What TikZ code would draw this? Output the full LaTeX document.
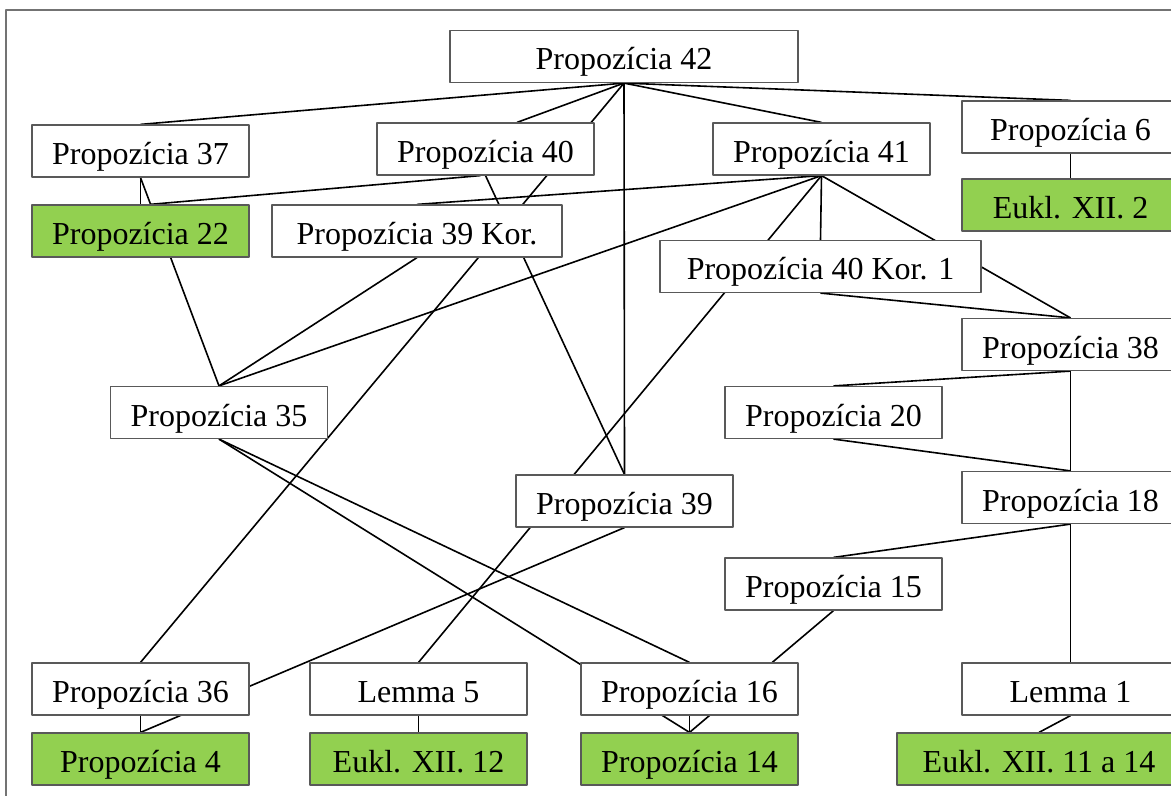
\documentclass[tikz,border=0pt]{standalone}
\usepackage{fontspec}
\setmainfont{Liberation Serif}
\usetikzlibrary{positioning}
\usetikzlibrary{calc}
\usetikzlibrary{backgrounds}
\definecolor{zelena}{HTML}{92D050}

\begin{document}
\begin{tikzpicture}[line cap=round,line join=round,x=0.5pt,y=-0.5pt,
  box/.style={draw=black!65,line width=0.6pt,fill=white,minimum width=108.5pt,minimum height=26pt,inner sep=0pt,text height=13.5pt,text depth=0pt,font=\fontsize{16}{19}\selectfont},
  greenbox/.style={box,fill=zelena},
  spoj/.style={line width=0.8pt}]
\clip(0,0) rectangle (1171,796);
\draw [black!55,line width=0.75pt] (6,796) -- (6,10) -- (1171,10);
% horny rad
\node[box,minimum width=174pt] (p42) at (624,56.5) {Propozícia 42};
\node[box] (p37) at (140.5,151) {Propozícia 37};
\node[box] (p40) at (485.5,149) {Propozícia 40};
\node[box] (p41) at (821.5,149) {Propozícia 41};
\node[box] (p6) at (1070.5,127) {Propozícia 6};
\node[greenbox] (p22) at (140.5,231) {Propozícia 22};
\node[greenbox] (e2) at (1070.5,205) {Eukl. XII. 2};
\node[box,minimum width=145pt] (p39k) at (417,231) {Propozícia 39 Kor.};
\node[box,minimum width=160.5pt] (p40k) at (820.5,266.5) {Propozícia 40 Kor. 1};
% stred
\node[box] (p38) at (1070.5,344.5) {Propozícia 38};
\node[box] (p35) at (219,412.5) {Propozícia 35};
\node[box] (p20) at (833.5,412.5) {Propozícia 20};
\node[box] (p39) at (624.5,501) {Propozícia 39};
\node[box] (p18) at (1070.5,497.5) {Propozícia 18};
\node[box] (p15) at (833.5,584) {Propozícia 15};
% dolny rad
\node[box] (p36) at (140.5,689) {Propozícia 36};
\node[box] (l5) at (418.5,689) {Lemma 5};
\node[box] (p16) at (689.5,689) {Propozícia 16};
\node[box] (l1) at (1070.5,689) {Lemma 1};
\node[greenbox] (p4) at (140.5,759) {Propozícia 4};
\node[greenbox] (e12) at (418.5,759) {Eukl. XII. 12};
\node[greenbox] (p14) at (689.5,759) {Propozícia 14};
\node[greenbox,minimum width=142pt] (e11) at (1039,759) {Eukl. XII. 11 a 14};
% spojnice
\begin{scope}[on background layer]
\begin{scope}[spoj]
\draw (p42.south) -- (p37.north);
\draw (p42.south) -- ($(p40.north)+(31.5,0)$);
\draw (p42.south) -- (p36.north);
\draw (p42.south) -- (p39.north);
\draw (p42.south) -- (p41.north);
\draw (p42.south) -- (p6.north);
\draw (p37.south) -- (p22.north);
\draw (p37.south) -- (p35.north);
\draw ($(p40.south)+(-5,0)$) -- ($(p22.north)+(9.5,0)$);
\draw (p40.south) -- (p39.north);
\draw (p41.south) -- (p39k.north);
\draw (p41.south) -- (p35.north);
\draw (p41.south) -- (l5.north);
\draw (p41.south) -- (p40k.north);
\draw (p41.south) -- (p38.north);
\draw (p39k.south) -- (p35.north);
\draw (p40k.south) -- (p38.north);
\draw (p6.south) -- (e2.north);
\draw (p38.south) -- (p20.north);
\draw (p38.south) -- (p18.north);
\draw (p20.south) -- (p18.north);
\draw (p18.south) -- (p15.north);
\draw (p18.south) -- (l1.north);
\draw (p35.south) -- (p16.north);
\draw (p35.south) -- (p14.north);
\draw (p39.south) -- (p4.north);
\draw (p15.south) -- (p14.north);
\draw (p36.south) -- (p4.north);
\draw (l5.south) -- (e12.north);
\draw (p16.south) -- (p14.north);
\draw (l1.south) -- (e11.north);
\end{scope}
\end{scope}
\end{tikzpicture}
\end{document}
